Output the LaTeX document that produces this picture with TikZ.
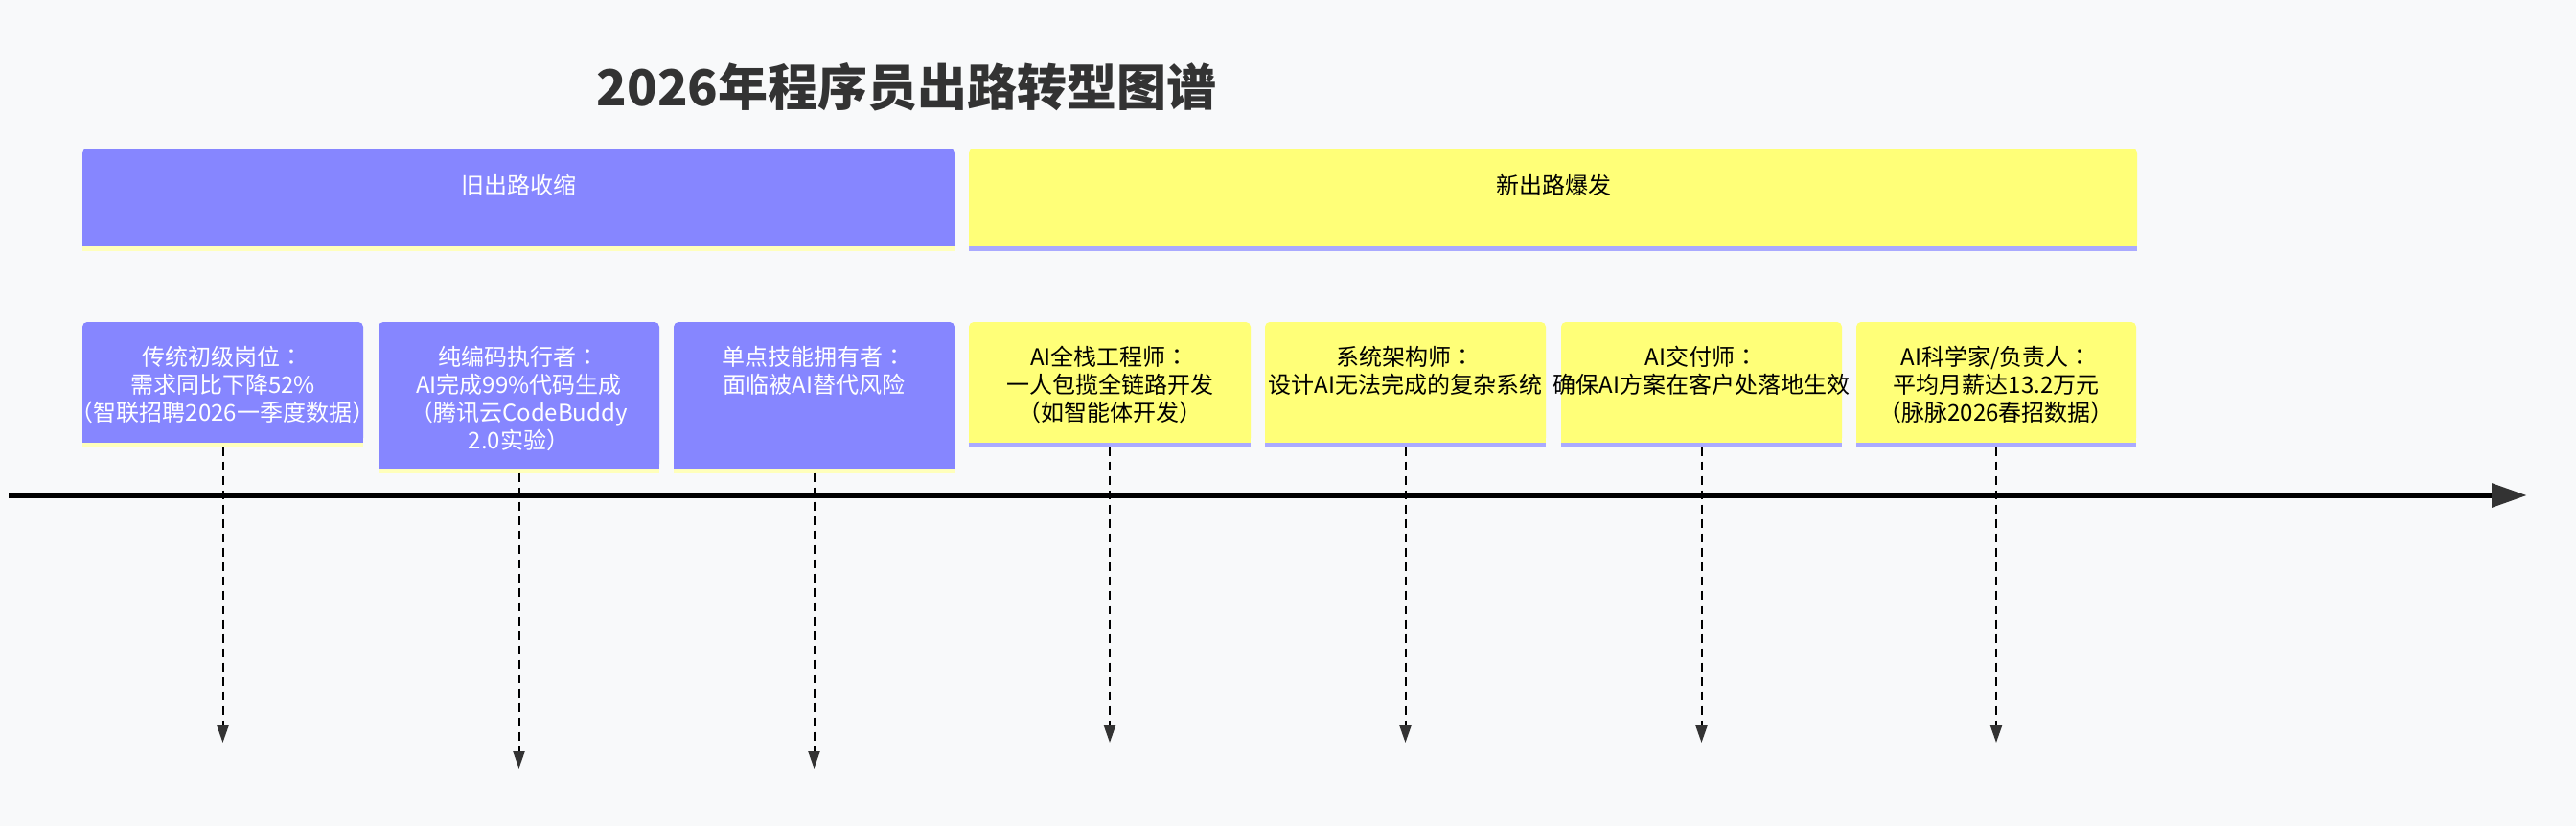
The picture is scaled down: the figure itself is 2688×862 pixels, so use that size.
\documentclass[tikz,border=0pt]{standalone}
\usepackage{fontspec}
\setmainfont{Noto Sans CJK SC}
\newfontfamily\jpfont{Noto Sans CJK JP}
\newcommand\jcolon{{\jpfont ：}}
\usetikzlibrary{arrows.meta}
\definecolor{bg}{HTML}{F8F9FA}
\definecolor{oldc}{HTML}{8686FF}
\definecolor{newc}{HTML}{FFFF78}
\definecolor{oldstrip}{HTML}{FFFFBB}
\definecolor{newstrip}{HTML}{AAAAFF}
\definecolor{ink}{HTML}{333333}
% #1 name, #2 left x, #3 top y, #4 right x, #5 bottom y, #6 fill, #7 strip
\newcommand\tlbox[7]{%
  \fill[#6, rounded corners=2.5pt] (#2,#3) rectangle (#4,#5);
  \fill[#6] (#2,#3+20) rectangle (#4,#5);
  \fill[#7] (#2,#5) rectangle (#4,#5+4.5);
  \coordinate (#1) at ({(#2+#4)/2},#5+4.5);
}
\tikzset{
  headtxt/.style={inner sep=0pt, font=\fontsize{12pt}{14.5pt}\selectfont},
  itemtxt/.style={inner sep=0pt, align=center, anchor=north, font=\fontsize{12pt}{14.5pt}\selectfont},
  oldtxt/.style={text=white},
  newtxt/.style={text=black},
  dashline/.style={black, line width=1pt, dash pattern=on 4.5pt off 3pt,
    -{Triangle[width=6pt,length=9pt,color=ink]}},
  axisline/.style={black, line width=3pt, -{Triangle[width=12pt,length=18.5pt,color=ink]}},
}
\begin{document}
\begin{tikzpicture}[x=0.5pt,y=-0.5pt]
\fill[bg] (0,0) rectangle (2688,862);
\useasboundingbox (0,0) rectangle (2688,862);

% title
\node[inner sep=0pt, text=ink, font=\fontsize{26pt}{30pt}\selectfont\bfseries] (title) at (946,91) {2026年程序员出路转型图谱};

% section headers
\tlbox{hold}{86}{155}{996}{257}{oldc}{oldstrip}
\tlbox{hnew}{1011}{155}{2230}{257}{newc}{newstrip}
\node[headtxt, oldtxt] (holdt) at (541,193) {旧出路收缩};
\node[headtxt, newtxt] (hnewt) at (1621,193) {新出路爆发};

% axis
\coordinate (axL) at (9,517);
\coordinate (axR) at (2637,517);
\draw[axisline] (axL) -- (axR);

% item boxes
\tlbox{c1}{86}{336}{379}{462}{oldc}{oldstrip}
\tlbox{c2}{395}{336}{688}{489}{oldc}{oldstrip}
\tlbox{c3}{703}{336}{996}{489}{oldc}{oldstrip}
\tlbox{c4}{1011}{336}{1305}{462}{newc}{newstrip}
\tlbox{c5}{1320}{336}{1613}{462}{newc}{newstrip}
\tlbox{c6}{1629}{336}{1922}{462}{newc}{newstrip}
\tlbox{c7}{1937}{336}{2229}{462}{newc}{newstrip}

\node[itemtxt, oldtxt] (t1) at (232.5,361) {传统初级岗位\jcolon\\需求同比下降52\%\\（智联招聘2026一季度数据）};
\node[itemtxt, oldtxt] (t2) at (541.5,361) {纯编码执行者\jcolon\\AI完成99\%代码生成\\（腾讯云CodeBuddy\\2.0实验）};
\node[itemtxt, oldtxt] (t3) at (849.5,361) {单点技能拥有者\jcolon\\面临被AI替代风险};
\node[itemtxt, newtxt] (t4) at (1158,361) {AI全栈工程师\jcolon\\一人包揽全链路开发\\（如智能体开发）};
\node[itemtxt, newtxt] (t5) at (1466.5,361) {系统架构师\jcolon\\设计AI无法完成的复杂系统};
\node[itemtxt, newtxt] (t6) at (1775.5,361) {AI交付师\jcolon\\确保AI方案在客户处落地生效};
\node[itemtxt, newtxt] (t7) at (2083,361) {AI科学家/负责人\jcolon\\平均月薪达13.2万元\\（脉脉2026春招数据）};

% dashed drop lines
\coordinate (e1) at (232.5,775);
\coordinate (e2) at (541.5,802);
\coordinate (e3) at (849.5,802);
\coordinate (e4) at (1158,775);
\coordinate (e5) at (1466.5,775);
\coordinate (e6) at (1775.5,775);
\coordinate (e7) at (2083,775);
\foreach \i in {1,...,7} {\draw[dashline] (c\i) -- (e\i);}
\end{tikzpicture}
\end{document}
